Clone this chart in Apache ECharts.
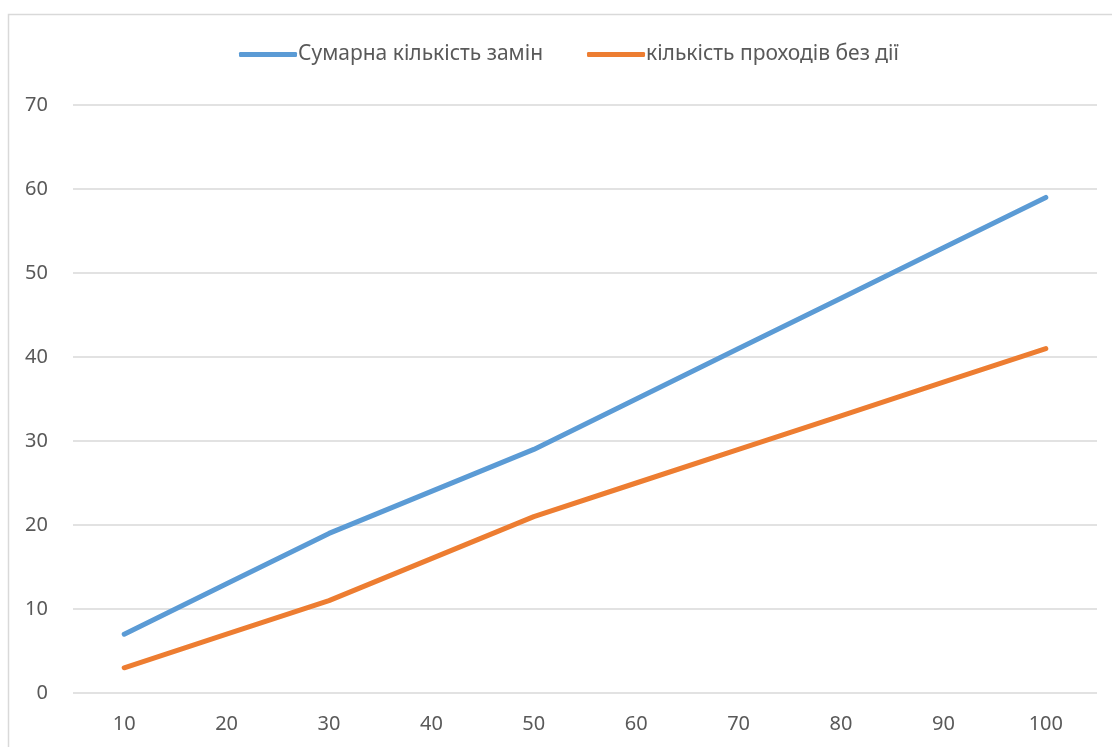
<!DOCTYPE html>
<html>
<head>
<meta charset="utf-8">
<script src="https://cdn.jsdelivr.net/npm/echarts@6/dist/echarts.min.js"></script>
<style>
  html, body { margin: 0; padding: 0; background: #ffffff; }
  #chart { width: 1112px; height: 747px; }
</style>
</head>
<body>
<div id="chart"></div>
<script>
// Array sizes along the x axis
const categories = ['10', '20', '30', '40', '50', '60', '70', '80', '90', '100'];
// Total number of swaps
const totalSwaps = [7, 13, 19, 24, 29, 35, 41, 47, 53, 59];
// Number of passes without any action
const idlePasses = [3, 7, 11, 16, 21, 25, 29, 33, 37, 41];
const seriesNames = ['Сумарна кількість замін', 'кількість проходів без дії'];

const textColor = '#595959';
const gridColor = '#d9d9d9';
const fontFamily = '"Noto Sans", "Open Sans", sans-serif';

const chart = echarts.init(document.getElementById('chart'), null, { renderer: 'canvas' });

chart.setOption({
  backgroundColor: '#ffffff',
  animation: false,
  graphic: [{
    type: 'rect',
    shape: { x: 8.5, y: 14.5, width: 1200, height: 800 },
    style: { fill: 'none', stroke: gridColor, lineWidth: 1.5 },
    silent: true,
    z: -1
  }],
  legend: {
    top: 39,
    left: 234,
    itemWidth: 58,
    itemHeight: 5,
    itemGap: 44,
    icon: 'roundRect',
    textStyle: { color: textColor, fontSize: 21, fontFamily: fontFamily, padding: [0, 0, 0, -4] },
    data: seriesNames
  },
  grid: { left: 73, right: 15, top: 105, bottom: 54, containLabel: false },
  xAxis: {
    type: 'category',
    data: categories,
    boundaryGap: true,
    axisLine: { show: false },
    axisTick: { show: false },
    axisLabel: { color: textColor, fontSize: 20, fontFamily: fontFamily, margin: 21 }
  },
  yAxis: {
    type: 'value',
    min: 0,
    max: 70,
    interval: 10,
    axisLine: { show: false },
    axisTick: { show: false },
    axisLabel: { color: textColor, fontSize: 20, fontFamily: fontFamily, margin: 25 },
    splitLine: { lineStyle: { color: gridColor, width: 1.5 } }
  },
  series: [
    {
      name: seriesNames[0],
      type: 'line',
      data: totalSwaps,
      showSymbol: false,
      symbol: 'none',
      color: '#5b9bd5',
      lineStyle: { width: 5, color: '#5b9bd5', cap: 'round', join: 'round' }
    },
    {
      name: seriesNames[1],
      type: 'line',
      data: idlePasses,
      showSymbol: false,
      symbol: 'none',
      color: '#ed7d31',
      lineStyle: { width: 5, color: '#ed7d31', cap: 'round', join: 'round' }
    }
  ]
});
</script>
</body>
</html>
